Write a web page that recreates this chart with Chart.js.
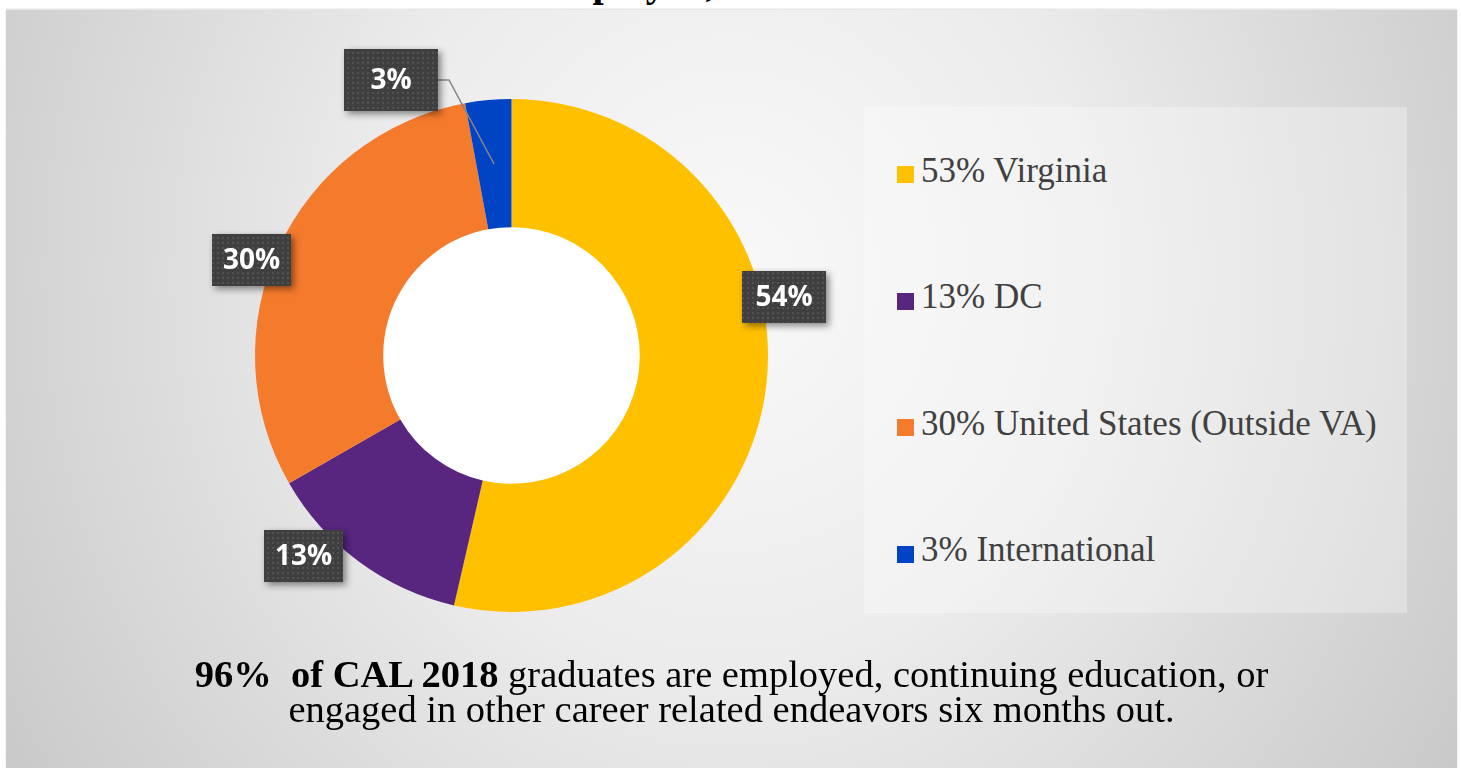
<!DOCTYPE html>
<html>
<head>
<meta charset="utf-8">
<title>CAL 2018 graduates by location</title>
<script src="https://cdn.jsdelivr.net/npm/chart.js@4.4.1/dist/chart.umd.min.js"></script>
<style>
  html, body { margin: 0; padding: 0; background: #fff; overflow: hidden; }
  #wrap { position: relative; width: 1461px; height: 768px; overflow: hidden; }
  #panel {
    position: absolute; left: 6px; top: 10px; width: 1451px; height: 758px;
    background: radial-gradient(ellipse 62% 130% at 50% 35%, #f9f9f9 0%, #ececec 40%, #c6c6c6 100%);
    box-shadow: 0 -1px 2px rgba(0,0,0,0.15);
  }
  #title {
    position: absolute; top: -37px; left: 0; white-space: nowrap;
    font: bold 40px/40px "Liberation Serif", serif; color: #000;
  }
  #chart { position: absolute; left: 0; top: 0; }
  #legend {
    position: absolute; left: 864px; top: 107px; width: 543px; height: 506px;
    background: rgba(255,255,255,0.3);
    display: flex; flex-direction: column; justify-content: space-around;
  }
  #legend .item { display: flex; align-items: center; padding-left: 33px; }
  #legend .sw { width: 17px; height: 17px; margin: 9px 7px 0 0; flex: none; }
  #legend .tx { font: 35px/35px "Liberation Serif", serif; color: #404040; white-space: nowrap; }
  #note {
    position: absolute; left: 6px; top: 657px; width: 1451px; text-align: center;
    font: 38.5px/35px "Liberation Serif", serif; color: #000;
  }
</style>
</head>
<body>
<div id="wrap">
  <div id="panel"></div>
  <div id="title">Where CAL Graduates Are <span id="titleKey">Employed,</span> 2018</div>
  <div id="legend"></div>
  <canvas id="chart" width="1461" height="768"></canvas>
  <div id="note"><b>96%&nbsp; of CAL 2018</b> graduates are employed, continuing education, or<br>engaged in other career related endeavors six months out.</div>
</div>
<script>
// data
var categories = ["53% Virginia", "13% DC", "30% United States (Outside VA)", "3% International"];
var shares = [53.6, 13.1, 30.4, 2.9];
var dataLabels = ["54%", "13%", "30%", "3%"];
var sliceColors = ["#FFC000", "#58257F", "#F47A2C", "#0043C4"];

// where each label box sits: turn (deg) from slice middle, distance in outer radii, box size
var labelPlacement = [
  { turn: -18.6, dist: 1.087, w: 84, h: 52 },
  { turn: 9.5, dist: 1.126, w: 79, h: 52 },
  { turn: -4.75, dist: 1.079, w: 79, h: 52 },
  { turn: -18.45, dist: 1.171, w: 94, h: 62, leader: true },
];

// line the cut-off title up with the reference
var key = document.getElementById("titleKey");
var title = document.getElementById("title");
title.style.left = (533 - key.offsetLeft) + "px";

function dotPattern(ctx) {
  var c = document.createElement("canvas");
  c.width = 5;
  c.height = 5;
  var p = c.getContext("2d");
  p.fillStyle = "#3f3f3f";
  p.fillRect(0, 0, 5, 5);
  p.fillStyle = "#535353";
  p.fillRect(2, 2, 2, 2);
  return ctx.createPattern(c, "repeat");
}

// white hole in the middle of the ring
var holeFill = {
  id: "holeFill",
  beforeDatasetsDraw: function (chart) {
    var arc = chart.getDatasetMeta(0).data[0];
    if (!arc) return;
    var p = arc.getProps(["x", "y", "innerRadius"]);
    var ctx = chart.ctx;
    ctx.save();
    ctx.fillStyle = "#ffffff";
    ctx.beginPath();
    ctx.arc(p.x, p.y, p.innerRadius + 1, 0, Math.PI * 2);
    ctx.fill();
    ctx.restore();
  },
};

var boxLabels = {
  id: "boxLabels",
  afterDatasetsDraw: function (chart, args, opts) {
    var ctx = chart.ctx;
    var fill = dotPattern(ctx);
    chart.getDatasetMeta(0).data.forEach(function (arc, i) {
      var p = arc.getProps(["x", "y", "startAngle", "endAngle", "innerRadius", "outerRadius"]);
      var place = opts.placement[i];
      var mid = (p.startAngle + p.endAngle) / 2;
      var a = mid + (place.turn * Math.PI) / 180;
      var cx = p.x + Math.cos(a) * p.outerRadius * place.dist;
      var cy = p.y + Math.sin(a) * p.outerRadius * place.dist;
      var left = Math.round(cx - place.w / 2);
      var top = Math.round(cy - place.h / 2);

      if (place.leader) {
        var r = (p.innerRadius + p.outerRadius) / 2;
        ctx.save();
        ctx.strokeStyle = "#858585";
        ctx.lineWidth = 1.5;
        ctx.beginPath();
        ctx.moveTo(left + place.w, top + place.h / 2);
        ctx.lineTo(left + place.w + 11, top + place.h / 2);
        ctx.lineTo(p.x + Math.cos(mid) * r, p.y + Math.sin(mid) * r);
        ctx.stroke();
        ctx.restore();
      }

      ctx.save();
      ctx.shadowColor = "rgba(0,0,0,0.45)";
      ctx.shadowBlur = 7;
      ctx.shadowOffsetX = 3;
      ctx.shadowOffsetY = 3;
      ctx.fillStyle = fill;
      ctx.fillRect(left, top, place.w, place.h);
      ctx.restore();

      ctx.save();
      ctx.fillStyle = "#ffffff";
      ctx.font = 'bold 28px "Open Sans"';
      ctx.textAlign = "center";
      ctx.textBaseline = "middle";
      ctx.fillText(dataLabels[i], left + place.w / 2, top + place.h / 2 + 1);
      ctx.restore();
    });
  },
};

var htmlLegend = {
  id: "htmlLegend",
  afterUpdate: function (chart) {
    var box = document.getElementById("legend");
    box.innerHTML = "";
    var ds = chart.data.datasets[0];
    chart.data.labels.forEach(function (label, i) {
      var item = document.createElement("div");
      item.className = "item";
      var sw = document.createElement("span");
      sw.className = "sw";
      sw.style.background = ds.backgroundColor[i];
      var tx = document.createElement("span");
      tx.className = "tx";
      tx.textContent = label;
      item.appendChild(sw);
      item.appendChild(tx);
      box.appendChild(item);
    });
  },
};

var ctx = document.getElementById("chart").getContext("2d");
var myChart = new Chart(ctx, {
  type: "doughnut",
  data: {
    labels: categories,
    datasets: [
      {
        data: shares,
        backgroundColor: sliceColors,
        borderWidth: 0,
      },
    ],
  },
  options: {
    responsive: false,
    animation: false,
    devicePixelRatio: 1,
    cutout: "50%",
    layout: {
      padding: { left: 255, top: 99, right: 693, bottom: 156 },
    },
    plugins: {
      legend: { display: false },
      tooltip: { enabled: false },
      boxLabels: { placement: labelPlacement },
    },
  },
  plugins: [holeFill, boxLabels, htmlLegend],
});
</script>
</body>
</html>
